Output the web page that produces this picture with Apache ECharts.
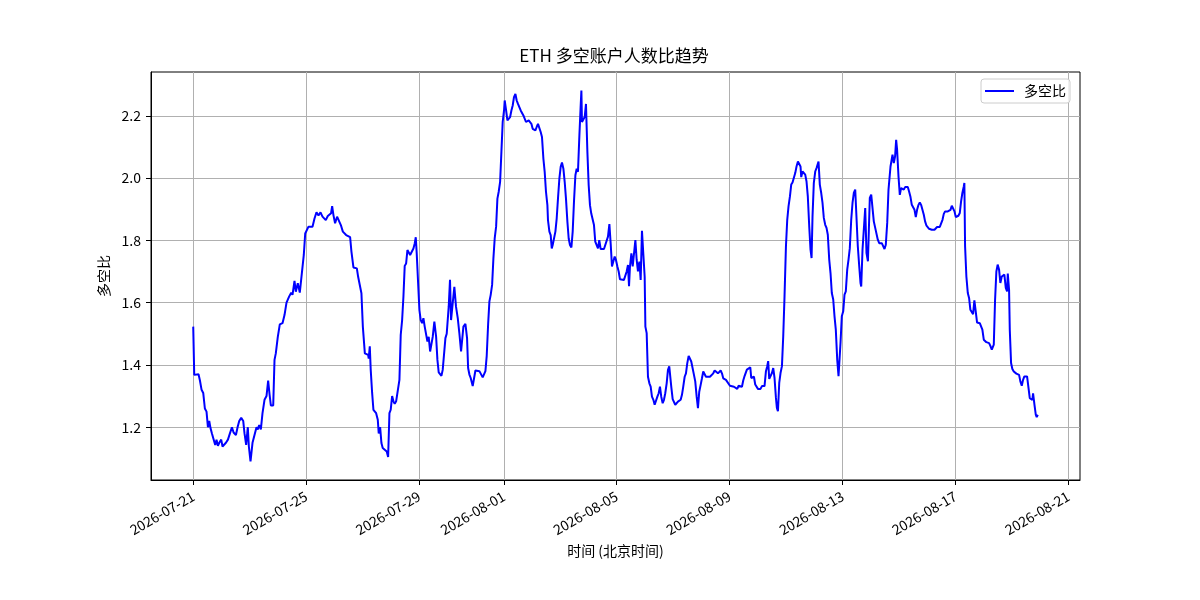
<!DOCTYPE html>
<html>
<head>
<meta charset="utf-8">
<script src="https://cdn.jsdelivr.net/npm/echarts@6/dist/echarts.min.js"></script>
<style>
html, body { margin: 0; padding: 0; background: #fff; }
#chart { width: 1200px; height: 600px; }
</style>
</head>
<body>
<div id="chart"></div>
<script>
// hours after 2026-07-21 00:00 (北京时间)
var hours = [
  0, 0.85, 2.3, 4.5, 5.7, 7.1, 8.5, 9.9, 11.3, 12.5, 13.6, 14.7, 15.9, 17.3, 18.7, 19.8, 21.0, 22.1, 23.8, 24.9,
  26.6, 27.8, 29.5, 31.2, 32.9, 34.3, 36.3, 37.7, 39.1, 40.8, 42.5, 43.6, 45.0, 46.4, 47.3, 48.7, 50.4, 52.1, 53.8, 54.9,
  56.1, 57.5, 58.9, 60.6, 62.3, 63.7, 64.9, 66.0, 68.0, 69.1, 70.2, 71.9, 73.6, 75.9, 77.6, 79.3, 81.6, 83.3, 84.4, 86.1,
  87.2, 88.9, 90.6, 92.3, 94.0, 95.2, 96.3, 98.0, 99.1, 101.4, 103.1, 104.8, 106.5, 108.2, 109.9, 111.6, 112.7,
  114.4, 115.8, 117.2, 118.1, 119.2, 120.6, 122.3, 123.8, 125.5, 127.2, 128.9, 130.0, 131.7, 133.4, 134.5, 136.2, 137.9, 139.1,
  140.2, 141.9, 143.0, 144.2, 145.9, 147.0, 148.7, 149.2, 150.1, 150.9, 152.1, 153.2, 154.3, 155.5, 156.9, 157.7, 158.9, 160.0,
  161.1, 162.8, 164.5, 165.7, 166.8, 167.9, 169.1, 170.2, 171.3, 172.5, 174.2, 175.3, 176.4, 177.6, 178.7, 179.8, 181.0, 182.1,
  183.2, 184.4, 186.1, 187.2, 188.3, 189.2, 190.0, 191.2, 192.3, 193.4, 194.6, 195.7, 196.8, 198.0, 199.1, 200.2, 201.4, 202.5,
  203.6, 205.0, 206.5, 207.6, 208.7, 209.9, 211.0, 212.1, 213.3, 214.4, 215.5, 217.2, 218.3, 219.2, 220.6, 222.0, 223.4, 224.9,
  226.3, 227.7, 228.5, 229.7, 231.4,
  232.8, 233.7, 234.8, 235.9, 237.6, 238.8, 239.9, 241.6, 243.3, 245.0, 246.1, 247.3, 248.4, 249.5, 250.7, 251.8, 252.9, 254.1,
  255.2, 256.3, 257.5, 258.6, 259.7, 260.9, 262.0, 263.1, 264.3, 264.8, 266.0, 267.1, 268.2, 269.4, 270.5, 271.6, 272.7, 273.9,
  275.0, 276.1, 277.3, 278.4, 279.5, 280.7, 281.8, 282.9, 284.1, 285.2, 286.3, 287.5, 288.6, 289.7, 290.9, 292.0, 293.1, 294.3,
  295.4, 296.5, 297.7, 298.8, 299.9, 301.1, 301.6, 302.8, 303.9, 304.8, 305.6, 306.7, 307.9, 309.0, 310.1, 311.3, 312.4, 313.5,
  314.7, 315.8, 316.9, 318.1, 319.2, 320.3, 321.5, 322.6, 323.7, 324.9, 326.0, 327.1, 328.3, 329.4, 330.0, 330.5, 331.7, 332.8,
  333.9, 335.1, 336.2, 337.3, 338.4, 339.6, 340.7, 341.8, 343.0, 344.1, 345.2, 346.4, 347.5, 349.2, 350.9,
  352.6, 353.8, 354.9, 356.0, 357.2, 358.3, 359.4, 360.6, 361.7, 362.8, 364.5, 366.2, 367.4, 368.5, 369.6, 370.5, 371.3, 372.5,
  373.6, 374.7, 375.9, 377.0, 378.1, 379.3, 380.4, 381.5, 382.7, 383.8, 384.4, 385.5, 386.6, 387.8, 388.9, 390.0, 391.2, 392.3,
  393.4, 394.6, 395.7, 396.8, 397.9, 399.1, 400.2, 401.3, 402.5, 403.6, 404.7, 405.6, 406.4, 407.6, 408.7, 409.8, 411.0, 412.1,
  413.2, 414.4, 415.5, 416.6, 417.8, 418.9, 420.0, 421.2, 422.3, 423.4, 424.6, 425.7, 426.8, 428.0, 429.1, 430.2, 431.4, 432.5,
  433.6, 434.8, 435.9, 437.6, 439.3, 441.0, 442.1, 443.3, 445.0, 446.1, 447.2, 448.4, 449.5, 450.6, 451.8, 452.9, 454.6, 456.3,
  458.0, 459.7, 461.4, 462.5, 463.7, 465.4, 466.5, 467.6, 468.8,
  470.7, 472.1, 473.6, 474.4, 475.5, 476.7, 477.8, 478.9, 480.1, 481.2, 482.3, 483.5, 484.6, 485.7, 486.9, 488.0, 488.8, 489.7,
  490.8, 492.0, 493.1, 494.2, 495.4, 496.2, 497.1, 498.2, 499.3, 500.5, 501.6, 502.7, 503.9, 505.0, 506.1, 507.3, 508.4, 509.5,
  510.7, 511.8, 512.9, 514.1, 515.2, 516.3, 516.9, 518.0, 519.1, 520.3, 521.4, 522.5, 523.7, 524.8, 525.7, 526.5, 527.6, 528.8,
  529.9, 531.0, 531.6, 532.7, 533.9, 535.0, 536.1, 537.3, 538.4, 539.5, 540.7, 541.8, 542.9, 544.1, 545.2, 546.3, 547.5, 548.6,
  549.5, 550.3, 551.4, 552.6, 553.7, 554.8, 556.0, 557.1, 558.2, 559.4, 560.5, 561.6, 562.8, 563.9, 565.0, 566.2, 567.3, 567.9,
  569.0, 570.1, 571.3, 572.4, 573.6, 574.4, 575.2, 576.4, 577.5, 578.6, 579.8, 580.9, 582.0, 583.2, 584.3, 585.4, 586.6, 587.7,
  588.8, 590.0, 591.1,
  592.8, 593.9, 594.5, 595.6, 596.7, 597.6, 598.4, 599.6, 600.7, 601.8, 603.0, 604.1, 605.2, 606.4, 607.5, 608.6, 609.7, 610.9,
  612.0, 613.2, 614.3, 615.4, 616.6, 617.7, 618.8, 620.0, 621.1, 622.2, 623.4, 624.5, 625.6, 626.8, 627.9, 629.0, 630.2, 631.3,
  632.4, 633.6, 634.7, 635.8, 637.0, 638.1, 639.2, 640.4, 641.5, 642.6, 643.8, 644.9, 646.0, 647.2, 648.3, 649.4, 650.5, 651.7,
  652.8, 653.9, 655.1, 655.6, 656.2, 657.3, 658.5, 659.6, 660.7, 661.9, 663.0, 664.1, 665.3, 666.4, 667.5, 668.7, 669.8, 670.9,
  672.1, 673.2, 674.3, 675.5, 676.6, 677.7, 678.9, 679.7, 680.6, 681.7, 682.8, 683.9, 685.1, 686.2, 687.4, 688.5, 689.6, 690.8,
  691.9, 692.5, 693.6, 694.2, 695.3, 696.4, 697.6, 698.7, 699.8, 701.0, 702.1, 703.2, 704.4, 705.5, 706.6, 707.8, 708.9, 710.0,
  711.2, 712.3, 713.4, 714.0, 715.2, 716.3, 717.1, 718.0
];

var ratio = [
  1.523, 1.368, 1.365, 1.37, 1.35, 1.32, 1.31, 1.26, 1.25, 1.20, 1.22, 1.197, 1.18, 1.175, 1.143, 1.16, 1.14, 1.15, 1.16, 1.138,
  1.133, 1.15, 1.16, 1.18, 1.20, 1.183, 1.175, 1.20, 1.22, 1.23, 1.22, 1.18, 1.143, 1.20, 1.138, 1.09, 1.15, 1.175, 1.20, 1.193,
  1.207, 1.193, 1.245, 1.288, 1.30, 1.35, 1.305, 1.27, 1.27, 1.416, 1.437, 1.49, 1.53, 1.534, 1.56, 1.60, 1.62, 1.632, 1.625, 1.67,
  1.635, 1.662, 1.632, 1.63, 1.753, 1.822, 1.828, 1.844, 1.85, 1.844, 1.87, 1.89, 1.88, 1.89, 1.876, 1.88, 1.865,
  1.878, 1.881, 1.887, 1.91, 1.881, 1.855, 1.876, 1.878, 1.849, 1.828, 1.828, 1.817, 1.812, 1.81, 1.764, 1.713, 1.718, 1.71,
  1.683, 1.678, 1.63, 1.523, 1.437, 1.432, 1.432, 1.42, 1.46, 1.384, 1.31, 1.256, 1.256, 1.245, 1.224, 1.18, 1.20, 1.149,
  1.133, 1.13, 1.122, 1.104, 1.245, 1.256, 1.30, 1.283, 1.275, 1.283, 1.277, 1.352, 1.496, 1.544, 1.619, 1.718, 1.726, 1.769,
  1.767, 1.753, 1.753, 1.774, 1.79, 1.81, 1.758, 1.662, 1.576, 1.544, 1.534, 1.55, 1.523, 1.523, 1.475, 1.49, 1.443, 1.448,
  1.49, 1.539, 1.49, 1.416, 1.376, 1.379, 1.365, 1.384, 1.437, 1.486, 1.50, 1.587, 1.673, 1.544, 1.598, 1.651, 1.587, 1.55,
  1.50, 1.443, 1.443, 1.523, 1.532,
  1.486, 1.39, 1.369, 1.358, 1.332, 1.358, 1.382, 1.383, 1.38, 1.378, 1.36, 1.355, 1.38, 1.428, 1.53, 1.604, 1.625, 1.657,
  1.742, 1.806, 1.844, 1.934, 1.956, 1.988, 2.084, 2.18, 2.22, 2.249, 2.217, 2.185, 2.18, 2.196, 2.217, 2.233, 2.26, 2.27,
  2.249, 2.238, 2.238, 2.217, 2.212, 2.201, 2.196, 2.18, 2.174, 2.185, 2.19, 2.174, 2.158, 2.153, 2.153, 2.164, 2.174, 2.18,
  2.148, 2.132, 2.062, 2.02, 1.956, 1.913, 1.865, 1.828, 1.817, 1.774, 1.785, 1.78, 1.828, 1.87, 1.934, 1.999, 2.036, 2.05,
  2.03, 1.988, 1.934, 1.86, 1.806, 1.785, 1.777, 1.828, 1.924, 2.009, 2.03, 2.02, 2.137, 2.233, 2.281, 2.18, 2.174, 2.196,
  2.238, 2.084, 1.977, 1.913, 1.886, 1.881, 1.849, 1.796, 1.79, 1.774, 1.801, 1.772, 1.772, 1.772, 1.772,
  1.812, 1.852, 1.79, 1.716, 1.721, 1.748, 1.737, 1.716, 1.70, 1.675, 1.673, 1.673, 1.678, 1.70, 1.721, 1.653, 1.716, 1.758,
  1.716, 1.71, 1.801, 1.737, 1.70, 1.732, 1.673, 1.831, 1.753, 1.683, 1.523, 1.502, 1.362, 1.341, 1.33, 1.298, 1.288, 1.272,
  1.272, 1.298, 1.309, 1.33, 1.298, 1.277, 1.288, 1.309, 1.341, 1.384, 1.395, 1.40, 1.33, 1.29, 1.29, 1.272, 1.277, 1.282,
  1.282, 1.288, 1.304, 1.33, 1.362, 1.373, 1.405, 1.429, 1.427, 1.411, 1.411, 1.368, 1.347, 1.298, 1.261, 1.314, 1.336, 1.357,
  1.379, 1.382, 1.362, 1.362, 1.362, 1.362, 1.373, 1.382, 1.382, 1.373, 1.379, 1.382, 1.373, 1.357, 1.352, 1.352, 1.35, 1.333,
  1.33, 1.33, 1.33, 1.323, 1.333, 1.33, 1.33, 1.35, 1.365,
  1.385, 1.383, 1.392, 1.358, 1.364, 1.362, 1.337, 1.334, 1.323, 1.323, 1.323, 1.332, 1.334, 1.332, 1.38, 1.396, 1.412, 1.355,
  1.355, 1.374, 1.39, 1.358, 1.294, 1.262, 1.251, 1.342, 1.374, 1.396, 1.492, 1.62, 1.78, 1.866, 1.909, 1.941, 1.979, 1.986,
  1.989, 2.016, 2.037, 2.053, 2.053, 2.037, 2.003, 2.021, 2.021, 2.011, 1.989, 1.941, 1.845, 1.77, 1.743, 1.877, 1.984, 2.021,
  2.032, 2.037, 2.053, 1.979, 1.952, 1.92, 1.872, 1.85, 1.84, 1.818, 1.738, 1.695, 1.631, 1.61, 1.556, 1.513, 1.417, 1.364,
  1.364, 1.471, 1.556, 1.572, 1.626, 1.636, 1.706, 1.738, 1.775, 1.866, 1.92, 1.952, 1.963, 1.96, 1.781, 1.717, 1.663, 1.652,
  1.77, 1.834, 1.904, 1.759, 1.733, 1.834, 1.936, 1.947, 1.952, 1.861, 1.84, 1.834, 1.802, 1.791, 1.795, 1.791, 1.786, 1.772,
  1.786, 1.856, 1.963,
  2.037, 2.043, 2.075, 2.048, 2.07, 2.123, 2.091, 2.005, 1.946, 1.968, 1.971, 1.963, 1.971, 1.973, 1.971, 1.957, 1.941, 1.914,
  1.909, 1.898, 1.875, 1.898, 1.914, 1.922, 1.914, 1.909, 1.882, 1.861, 1.847, 1.842, 1.837, 1.834, 1.834, 1.834, 1.834, 1.839,
  1.843, 1.843, 1.843, 1.845, 1.866, 1.885, 1.893, 1.893, 1.893, 1.895, 1.898, 1.911, 1.911, 1.893, 1.875, 1.875, 1.879, 1.888,
  1.925, 1.952, 1.973, 1.984, 1.781, 1.684, 1.631, 1.615, 1.577, 1.583, 1.563, 1.607, 1.604, 1.536, 1.536, 1.534, 1.529, 1.513,
  1.481, 1.475, 1.473, 1.473, 1.47, 1.461, 1.449, 1.443, 1.465, 1.609, 1.70, 1.722, 1.706, 1.663, 1.684, 1.684, 1.69, 1.647,
  1.636, 1.693, 1.641, 1.513, 1.406, 1.387, 1.379, 1.374, 1.372, 1.372, 1.368, 1.347, 1.333, 1.352, 1.363, 1.363, 1.363, 1.361,
  1.293, 1.293, 1.288, 1.309, 1.272, 1.24, 1.232, 1.24
];

var xTickHours = [0, 96, 192, 264, 360, 456, 552, 648, 744];
var xTickLabels = ['2026-07-21', '2026-07-25', '2026-07-29', '2026-08-01', '2026-08-05',
                   '2026-08-09', '2026-08-13', '2026-08-17', '2026-08-21'];
var yTicks = [1.2, 1.4, 1.6, 1.8, 2.0, 2.2];

var font = '"Noto Sans CJK SC", "Noto Sans", sans-serif';

var seriesData = hours.map(function (h, i) { return [h, ratio[i]]; });

// matplotlib style 5% margins
var xSpan = hours[hours.length - 1] - hours[0];
var yMinV = Math.min.apply(null, ratio), yMaxV = Math.max.apply(null, ratio);
var ySpan = yMaxV - yMinV;

var myChart = echarts.init(document.getElementById('chart'));
var option = {
    animation: false,
    backgroundColor: '#fff',
    textStyle: { fontFamily: font, color: '#000' },
    title: {
        text: 'ETH 多空账户人数比趋势',
        left: 614,
        top: 47,
        textAlign: 'center',
        padding: 0,
        textStyle: { fontFamily: font, fontSize: 17, fontWeight: 'normal', color: '#000' }
    },
    legend: {
        data: [{ name: '多空比', icon: 'rect' }],
        right: 130,
        top: 79,
        padding: [5, 4, 5, 4],
        itemWidth: 29,
        itemHeight: 2,
        borderColor: '#cccccc',
        borderWidth: 1,
        borderRadius: 3,
        backgroundColor: 'rgba(255,255,255,0.8)',
        textStyle: { fontFamily: font, fontSize: 14, color: '#000', padding: [0, 0, 0, 5], lineHeight: 14 }
    },
    grid: {
        left: 151, right: 120, top: 72, bottom: 120,
        show: true,
        borderColor: '#000',
        borderWidth: 1,
        outerBoundsMode: 'none'
    },
    xAxis: {
        type: 'value',
        min: hours[0] - xSpan * 0.05,
        max: hours[hours.length - 1] + xSpan * 0.05,
        name: '时间 (北京时间)',
        nameLocation: 'middle',
        nameGap: 64,
        nameTextStyle: { fontFamily: font, fontSize: 14, color: '#000' },
        axisLine: { show: true, onZero: false, lineStyle: { color: '#000', width: 1 } },
        axisTick: { show: true, length: 5, lineStyle: { color: '#000' }, customValues: xTickHours },
        axisLabel: {
            customValues: xTickHours,
            rotate: 30,
            margin: 15,
            fontSize: 14,
            color: '#000',
            fontFamily: font,
            formatter: function (v) { return xTickLabels[xTickHours.indexOf(v)]; }
        },
        splitLine: { show: true, lineStyle: { color: '#b0b0b0', width: 1 } }
    },
    yAxis: {
        type: 'value',
        min: yMinV - ySpan * 0.05,
        max: yMaxV + ySpan * 0.05,
        name: '多空比',
        nameLocation: 'middle',
        nameGap: 36,
        nameRotate: 90,
        nameTextStyle: { fontFamily: font, fontSize: 14, color: '#000' },
        axisLine: { show: true, onZero: false, lineStyle: { color: '#000', width: 1 } },
        axisTick: { show: true, length: 5, lineStyle: { color: '#000' }, customValues: yTicks },
        axisLabel: {
            customValues: yTicks,
            margin: 10,
            fontSize: 14,
            color: '#000',
            fontFamily: font,
            formatter: function (v) { return v.toFixed(1); }
        },
        splitLine: { show: true, lineStyle: { color: '#b0b0b0', width: 1 } }
    },
    series: [{
        name: '多空比',
        type: 'line',
        data: seriesData,
        symbol: 'none',
        showSymbol: false,
        color: '#0000ff',
        lineStyle: { color: '#0000ff', width: 2 }
    }]
};
myChart.setOption(option);
</script>
</body>
</html>
